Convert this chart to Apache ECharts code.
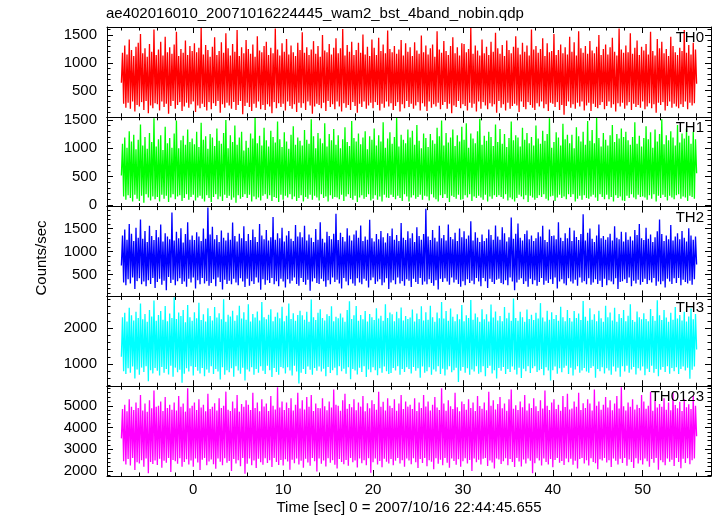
<!DOCTYPE html>
<html><head><meta charset="utf-8">
<script src="https://cdn.jsdelivr.net/npm/echarts@6/dist/echarts.min.js"></script>
<style>html,body{margin:0;padding:0;background:#fff}#c{width:717px;height:516px}</style>
</head><body><div id="c"></div>
<script>
const titleText = 'ae402016010_20071016224445_wam2_bst_4band_nobin.qdp';
const xName = 'Time [sec] 0 = 2007/10/16 22:44:45.655';
const yName = 'Counts/sec';
const tStart = -8, tStep = 0.125;
const bandNames = ['TH0', 'TH1', 'TH2', 'TH3', 'TH0123'];
const bandColors = ['#ff0000', '#00ff00', '#0000ff', '#00ffff', '#ff00ff'];

const th0 = [
640,1180,260,1310,190,1150,280,1420,170,1230,300,1120,120,1290,240,1360,
210,1520,290,1170,150,1260,310,1110,90,1340,230,1200,180,1600,270,1140,
250,1240,140,1380,300,1130,200,1470,260,1190,80,1280,220,1160,310,1330,
170,1560,240,1120,290,1250,130,1180,210,1400,280,1140,190,1300,250,1210,
300,1350,110,1190,230,1270,180,1640,260,1150,200,1320,140,1230,290,1110,
160,1290,270,1460,220,1140,310,1210,100,1370,250,1180,190,1530,280,1260,
230,1130,170,1340,290,1200,150,1590,240,1120,310,1280,70,1170,220,1410,
280,1250,200,1160,130,1330,260,1110,190,1480,300,1220,160,1190,240,1300,
150,1380,250,1140,210,1270,90,1170,290,1620,180,1240,270,1130,200,1350,
260,1200,140,1430,300,1150,220,1310,170,1190,250,1120,110,1360,280,1230,
190,1550,270,1180,150,1280,300,1140,230,1240,80,1390,210,1160,260,1300,
240,1110,180,1500,280,1220,130,1190,310,1340,200,1150,250,1270,160,1440,
300,1170,210,1260,120,1610,270,1130,190,1320,240,1200,150,1380,290,1140,
220,1230,100,1360,260,1180,200,1510,300,1150,170,1290,230,1120,280,1420,
180,1270,290,1140,240,1450,140,1210,260,1330,190,1170,300,1580,210,1250,
270,1190,150,1300,220,1160,290,1240,120,1410,250,1130,180,1350,310,1200,
200,1280,260,1120,170,1370,230,1220,290,1160,140,1490,270,1190,210,1310,
130,1150,300,1260,190,1330,250,1110,210,1570,280,1240,160,1180,240,1390,
290,1210,170,1140,260,1300,90,1460,230,1170,200,1280,310,1130,180,1350,
250,1340,220,1190,140,1250,280,1630,190,1160,260,1310,120,1220,300,1130,
170,1420,290,1170,230,1290,160,1140,270,1380,210,1200,250,1540,100,1260,
310,1160,190,1320,250,1120,140,1400,280,1230,170,1170,220,1290,260,1480,
230,1270,110,1150,300,1360,200,1200,160,1310,290,1130,240,1600,190,1240,
150,1300,270,1180,210,1250,300,1440,180,1120,250,1350,130,1190,280,1210,
260,1520,200,1140,290,1230,150,1330,240,1170,60,1280,220,1150,300,1470,
190,1200,250,1370,170,1130,280,1570,210,1260,300,1180,140,1300,230,1160,
280,1390,130,1220,260,1170,200,1290,180,1500,240,1140,290,1250,160,1330,
220,1150,300,1280,190,1450,250,1200,120,1130,270,1620,210,1240,280,1180,
170,1310,230,1190,290,1530,150,1160,260,1270,200,1400,240,1140,190,1290,
300,1220,160,1340,210,1150,270,1560,180,1210,250,1130,100,1430,280,1260,
240,1380,290,1170,140,1250,220,1120,300,1470,190,1300,260,1190,210,1140,
180,1270,250,1210,200,1590,300,1180,160,1320,280,1150,230,1360,270,1240,
620];

const th1 = [
520,1080,150,1190,90,1010,170,1300,120,1120,60,1240,180,980,110,1150,
70,1420,160,1050,40,1200,190,990,130,1270,80,1110,150,1530,100,1030,
140,1160,60,1230,180,970,110,1380,160,1090,50,1180,130,1010,190,1260,
100,1490,150,1000,170,1140,70,1220,120,1060,190,1330,90,1110,140,1170,
180,1070,80,1290,130,1020,160,1450,110,1150,60,1210,170,990,120,1250,
50,1190,140,1040,190,1350,100,1130,150,1080,70,1270,180,1500,120,1000,
160,1230,90,1110,130,1400,40,1060,170,1190,110,1290,140,960,190,1130,
120,1010,180,1260,60,1170,150,1540,100,1090,130,1220,80,1050,160,1360,
190,1140,110,1030,170,1310,70,1200,140,1100,120,1470,50,1160,180,1020,
90,1280,160,1120,130,990,190,1240,100,1390,150,1060,70,1190,120,1130,
170,1050,60,1320,140,1150,110,1080,180,1510,90,1210,160,1000,130,1270,
80,1170,190,1090,120,1440,150,1030,60,1250,170,1140,110,1340,140,1060,
130,1230,100,1000,180,1160,70,1370,150,1110,190,1040,120,1480,90,1180,
160,1120,50,1260,130,1070,170,1190,110,1300,140,980,190,1210,80,1150,
110,1350,170,1050,90,1230,150,1120,60,1460,180,1010,130,1170,120,1280,
180,1080,140,1200,100,1550,160,1030,120,1240,70,1150,190,1090,150,1330,
60,1190,130,1310,170,1060,110,1410,140,1130,180,1000,90,1260,160,1180,
150,1020,80,1250,190,1140,130,1080,100,1360,60,1210,170,1490,120,1050,
190,1270,120,1100,50,1190,160,1330,140,1040,110,1230,180,1120,90,1380,
100,1150,170,1440,130,1010,190,1260,70,1170,150,1090,120,1300,160,1520,
130,1060,90,1220,180,1130,60,1290,150,1200,110,1040,170,1420,140,1110,
170,1340,140,1080,110,1250,190,1020,80,1180,130,1470,100,1140,60,1230,
120,1190,180,1030,150,1360,100,1150,170,1270,50,1090,160,1200,130,1050,
90,1400,120,1170,170,1080,140,1310,190,1130,110,1250,80,1530,150,1010,
160,1110,70,1280,130,1190,180,1050,120,1430,150,1160,100,1240,190,1090,
140,1240,190,1000,60,1370,110,1210,160,1120,90,1290,170,1060,120,1480,
110,1130,150,1320,180,1090,130,1540,70,1180,190,1030,140,1270,100,1150,
180,1050,100,1230,140,1410,60,1110,170,1250,120,1170,150,1350,80,1200,
70,1290,160,1140,120,1060,190,1200,130,1460,100,1080,180,1220,140,1030,
150,1180,130,1390,90,1160,170,1280,110,1010,190,1330,60,1120,160,1250,
120,1510,180,1070,140,1230,80,1140,160,1300,130,1190,100,1050,170,1410,
190,1100,110,1260,150,1170,130,1350,70,1220,160,1080,140,1290,110,1160,
560];

const th2 = [
700,1350,330,1480,270,1260,400,1600,310,1390,440,1230,190,1520,360,1300,
420,1700,290,1280,350,1450,250,1210,380,1560,300,1340,430,1250,210,1470,
340,1310,410,1590,280,1220,370,1400,160,1330,450,1270,320,1850,390,1240,
270,1430,360,1290,420,1510,300,1200,350,1380,240,1640,410,1260,330,1350,
440,1250,200,1420,380,1330,290,1230,430,1500,310,1280,360,1960,260,1370,
320,1540,400,1270,250,1360,440,1210,340,1460,180,1300,390,1240,300,1410,
370,1260,290,1630,410,1340,330,1220,270,1390,420,1290,350,1550,230,1230,
410,1380,260,1250,360,1480,300,1320,440,1210,330,1600,170,1350,400,1270,
280,1470,380,1240,320,1310,430,1750,290,1260,360,1400,250,1290,410,1520,
350,1220,220,1350,400,1450,310,1280,370,1230,440,1580,300,1330,260,1420,
430,1310,340,1560,280,1240,390,1370,150,1300,350,1210,420,1490,320,1260,
300,1640,410,1280,360,1200,240,1430,380,1340,290,1270,440,1390,340,1820,
390,1250,310,1410,200,1320,430,1220,350,1510,270,1350,400,1240,310,1370,
260,1460,420,1300,330,1570,290,1230,410,1330,370,1260,220,1690,380,1290,
440,1220,300,1380,350,1270,400,1450,270,1310,330,1200,420,1400,190,1340,
330,1500,380,1260,290,1360,440,1230,310,1620,360,1300,260,1250,400,1440,
370,1290,230,1400,410,1210,340,1530,300,1340,430,1260,280,1380,350,1930,
290,1330,400,1250,320,1470,260,1300,380,1220,180,1560,410,1290,340,1360,
420,1240,350,1590,280,1320,440,1270,330,1410,390,1230,300,1500,240,1310,
360,1440,270,1280,400,1350,320,1660,370,1240,290,1420,430,1300,350,1210,
250,1370,430,1230,360,1290,210,1480,410,1360,340,1260,300,1570,390,1330,
410,1260,320,1530,290,1400,380,1220,270,1310,440,1740,350,1280,160,1390,
330,1610,390,1300,420,1240,300,1380,360,1460,240,1270,410,1350,290,1230,
380,1290,260,1420,340,1330,430,1560,280,1250,370,1210,320,1480,400,1340,
300,1350,440,1270,200,1640,350,1300,400,1230,310,1400,270,1290,420,1520,
350,1230,310,1460,390,1320,260,1250,440,1380,330,1810,360,1240,290,1410,
420,1500,280,1280,330,1210,400,1350,300,1590,370,1290,230,1340,410,1260,
270,1310,380,1390,350,1240,290,1550,420,1300,190,1270,340,1430,360,1220,
400,1420,320,1260,440,1330,250,1240,370,1470,310,1360,390,1600,280,1290,
340,1250,410,1520,300,1280,380,1370,330,1210,430,1310,260,1440,350,1700,
290,1380,360,1230,220,1350,410,1270,350,1580,300,1240,420,1330,320,1400,
430,1270,270,1450,390,1300,340,1220,310,1510,370,1350,280,1260,400,1330,
720];

const th3 = [
1200,2300,800,2420,720,2180,880,2560,760,2350,930,2210,600,2450,850,2280,
700,2680,900,2240,780,2390,940,2170,520,2500,830,2320,740,2760,890,2200,
810,2360,680,2470,920,2230,760,2610,860,2190,710,2400,950,2280,650,2850,
900,2250,770,2430,840,2330,480,2500,730,2160,880,2640,790,2300,940,2200,
680,2440,920,2270,810,2700,740,2220,890,2380,660,2180,850,2550,760,2330,
940,2210,720,2580,860,2290,790,2410,570,2240,910,2800,700,2170,830,2370,
770,2320,880,2480,650,2200,940,2350,820,2620,730,2260,900,2440,540,2230,
850,2660,790,2180,910,2390,700,2290,860,2460,760,2210,940,2720,810,2300,
720,2240,950,2370,830,2520,640,2190,890,2310,780,2430,700,2270,920,2590,
880,2190,740,2340,910,2680,820,2250,680,2410,950,2200,790,2360,460,2480,
760,2350,860,2230,720,2450,930,2170,840,2790,700,2300,890,2220,810,2420,
930,2520,790,2280,870,2210,660,2380,920,2330,750,2600,830,2190,900,2310,
690,2270,940,2400,800,2290,870,2170,730,2500,910,2740,580,2250,860,2350,
820,2610,710,2200,900,2360,780,2240,940,2470,640,2180,850,2390,770,2300,
910,2220,830,2550,690,2260,880,2340,760,2200,930,2660,800,2280,720,2430,
750,2380,890,2190,820,2450,940,2270,700,2570,860,2210,780,2330,910,2250,
860,2290,740,2510,920,2180,810,2400,880,2250,620,2600,930,2210,760,2440,
800,2230,910,2620,700,2300,850,2170,790,2430,940,2270,720,2720,870,2260,
680,2470,850,2200,940,2540,770,2310,830,2190,900,2380,500,2240,810,2640,
920,2190,760,2350,880,2280,700,2780,850,2230,790,2400,940,2300,730,2170,
770,2520,940,2240,660,2380,890,2180,950,2650,740,2290,830,2460,600,2210,
890,2330,810,2190,920,2580,720,2270,860,2420,780,2200,930,2820,840,2280,
710,2200,900,2450,610,2300,870,2170,800,2510,940,2250,750,2370,880,2220,
940,2420,780,2260,830,2690,860,2290,690,2180,910,2480,820,2230,540,2440,
830,2250,930,2360,730,2200,880,2590,770,2300,900,2190,950,2500,720,2280,
900,2180,680,2470,850,2280,940,2400,760,2220,820,2750,890,2310,790,2200,
760,2550,890,2230,940,2380,620,2190,860,2480,800,2270,910,2170,740,2620,
880,2300,820,2430,700,2210,930,2560,790,2170,900,2390,650,2280,940,2500,
790,2190,950,2340,760,2660,850,2220,920,2170,710,2460,880,2300,820,2240,
930,2410,690,2250,870,2190,780,2530,950,2330,760,2200,860,2770,660,2350,
840,2220,920,2500,780,2290,940,2170,730,2420,890,2230,800,2580,910,2260,
720,2360,860,2210,930,2450,820,2180,900,2320,590,2540,840,2240,930,2390,
1400];

const th0123 = [
3500,4850,2450,5050,2300,4750,2550,5300,2250,4950,2600,4800,2050,5150,2400,4900,
2350,5500,2500,4780,2200,5100,2580,4720,1900,5250,2420,4880,2320,5700,2480,4950,
2280,5000,2560,5200,2150,4760,2470,5400,2380,4900,2600,5050,1950,4820,2510,5150,
2450,4780,2330,5450,2590,4950,2200,5100,2420,4730,2540,5800,2300,4880,2480,5000,
2200,5150,2570,4800,2390,5300,2050,4920,2520,5050,2600,4750,2270,5550,2440,4850,
2530,4950,2310,5120,2100,4780,2580,5350,2430,4900,2260,5000,2590,5650,2380,4820,
2460,4760,2000,5200,2550,4880,2340,5500,2490,4730,2220,5080,2600,4950,1870,5250,
2330,5050,2580,4800,2260,5600,2480,4900,2140,5150,2560,4750,2400,5300,2290,4970,
2590,5100,2370,4760,2500,5450,2180,5000,2600,4830,2420,5850,2280,4920,2510,5200,
2250,4800,2540,5150,2440,4900,2060,5350,2520,4780,2360,5050,2580,5600,2300,4870,
2470,5250,2150,4830,2560,5400,2390,4950,2240,5500,2600,4760,2450,5100,1980,4900,
2570,4880,2330,5350,2480,4980,2210,4790,2590,5200,2380,4920,2500,5750,2290,5050,
2120,5000,2550,4770,2420,5250,2310,5550,2510,4860,2240,5080,2600,4930,2400,5300,
2480,4790,2160,5150,2570,4960,2360,5450,2500,4750,2270,5120,2590,4880,1920,5250,
2400,5080,2580,4820,2300,5650,2460,4950,2170,5180,2560,4780,2430,5350,2340,5000,
2550,4900,2260,5300,2470,4770,2600,5100,2350,5500,2490,4850,2200,5200,2580,4960,
2480,5050,2310,4850,2590,5350,2400,4760,2140,5150,2550,4900,2370,5500,2600,4970,
2220,5200,2500,4780,2430,5050,2080,5400,2590,4920,2330,4800,2520,5800,2270,5100,
2600,4770,2380,5250,2150,4980,2570,4850,2460,5600,2290,4930,2540,4750,2200,5200,
2450,5080,2590,4820,2340,5300,2510,4900,2000,5150,2580,4760,2400,5450,2520,4990,
2300,4860,2560,5150,2600,4790,2230,5650,2480,5000,2390,5250,2110,4830,2570,5080,
2530,5400,2320,4880,2450,5100,2590,4770,2260,5300,2550,5750,2410,4860,2180,5020,
2600,4800,2440,5200,2210,4930,2530,5500,2350,4780,2580,5100,2470,4900,1900,5350,
2360,4980,2590,4760,2480,5250,2250,4870,2570,5700,2420,5000,2300,4800,2550,5150,
2170,5300,2510,4850,2600,5050,2380,4770,2460,5450,2280,4940,2580,5550,2400,4830,
2560,4870,2290,5200,2470,4960,2120,5600,2550,4800,2600,5120,2340,4900,2500,5300,
2250,5100,2590,4780,2420,5750,2360,5000,2080,5200,2540,4820,2480,5050,2600,5400,
2390,4920,2500,5250,2180,4790,2580,5100,2470,5450,2300,4870,2560,5850,2370,4980,
2600,4780,2240,5150,2530,4950,2410,5300,2140,4830,2590,5050,2350,4900,2490,5500,
2300,5200,2570,4860,2450,5000,2200,5650,2550,4770,2380,5250,2600,4920,2060,5080,
2490,4950,2400,5350,2270,4820,2580,5150,2430,4790,2520,5600,2230,5030,2600,4890,
2410,5180,2130,4760,2560,5300,2370,4930,2590,5070,2310,4850,2500,5450,2580,5000,
3600];

const seriesValues = [th0, th1, th2, th3, th0123];

const xRange = [-9.6, 57.6];
const xMajorTicks = [0, 10, 20, 30, 40, 50];
const xMinorStep = 2;
const yRanges = [[25, 1645], [-30, 1555], [28, 1978], [384, 2877], [1770, 5900]];
const yMajorTicks = [[500, 1000, 1500], [0, 500, 1000, 1500], [500, 1000, 1500], [1000, 2000], [2000, 3000, 4000, 5000]];
const yMinorSteps = [100, 100, 100, 200, 200];

// ---- layout / style ----
const plotLeft = 107, plotRight = 711, plotTop = 27, plotBottom = 476;
const W = 717;
const panelH = (plotBottom - plotTop) / 5;
const font = 'Liberation Sans';
const fs = 15;

function stepValues(lo, hi, step) {
  const out = [];
  for (let v = Math.ceil(lo / step) * step; v <= hi + 1e-9; v += step) out.push(v);
  return out;
}
const xMinorTicks = stepValues(xRange[0], xRange[1], xMinorStep);
const plain = (v) => String(v);

const grids = [], xAxes = [], yAxes = [], series = [], titles = [];
titles.push({ text: titleText, left: plotLeft - 1, top: 6, padding: 0,
  textStyle: { fontFamily: font, fontSize: fs, fontWeight: 'normal', color: '#000' } });

const lineStyle = { color: '#000', width: 1 };
for (let i = 0; i < 5; i++) {
  const top = plotTop + i * panelH;
  grids.push({ left: plotLeft, width: plotRight - plotLeft, top: top, height: panelH,
    containLabel: false, outerBoundsMode: 'none' });
  const isLast = i === 4;
  const mkX = (pos, major) => ({
    type: 'value', gridIndex: i, position: pos, min: xRange[0], max: xRange[1], z: 5,
    axisLine: { show: major, onZero: false, lineStyle: lineStyle },
    axisTick: { show: true, inside: true, length: major ? 6 : 3.5, lineStyle: lineStyle,
      customValues: major ? xMajorTicks : xMinorTicks },
    axisLabel: { show: major && pos === 'bottom' && isLast, customValues: xMajorTicks, margin: 6,
      formatter: plain, fontFamily: font, fontSize: fs, color: '#000' },
    splitLine: { show: false },
    name: (major && pos === 'bottom' && isLast) ? xName : '',
    nameLocation: 'middle', nameGap: 24,
    nameTextStyle: { fontFamily: font, fontSize: fs, color: '#000' }
  });
  xAxes.push(mkX('bottom', true), mkX('top', true), mkX('bottom', false), mkX('top', false));
  const yMinor = stepValues(yRanges[i][0], yRanges[i][1], yMinorSteps[i]);
  const mkY = (pos, major) => ({
    type: 'value', gridIndex: i, position: pos, min: yRanges[i][0], max: yRanges[i][1], z: 5,
    axisLine: { show: major, onZero: false, lineStyle: lineStyle },
    axisTick: { show: true, inside: true, length: major ? 6 : 3.5, lineStyle: lineStyle,
      customValues: major ? yMajorTicks[i] : yMinor },
    axisLabel: { show: major && pos === 'left', customValues: yMajorTicks[i], margin: 10,
      formatter: plain, fontFamily: font, fontSize: fs, color: '#000' },
    splitLine: { show: false }
  });
  yAxes.push(mkY('left', true), mkY('right', true), mkY('left', false), mkY('right', false));
  series.push({
    type: 'line', name: bandNames[i], xAxisIndex: 4 * i, yAxisIndex: 4 * i,
    data: seriesValues[i].map((v, k) => [tStart + k * tStep, v]),
    showSymbol: false, symbol: 'none', clip: true, z: 2, sampling: false,
    lineStyle: { color: bandColors[i], width: 1.3 }
  });
  titles.push({ text: bandNames[i], right: W - 704, top: top + 3.5, padding: 0, z: 10,
    textStyle: { fontFamily: font, fontSize: fs, fontWeight: 'normal', color: '#000' } });
}

const chart = echarts.init(document.getElementById('c'), null, { renderer: 'canvas' });
chart.setOption({
  animation: false,
  backgroundColor: '#fff',
  title: titles,
  grid: grids,
  xAxis: xAxes,
  yAxis: yAxes,
  series: series,
  graphic: [{
    type: 'text', x: 42, y: 258, rotation: Math.PI / 2, z: 10,
    style: { text: yName, fontFamily: font, fontSize: fs, fill: '#000', align: 'center', verticalAlign: 'middle' }
  }]
});
</script>
</body></html>
